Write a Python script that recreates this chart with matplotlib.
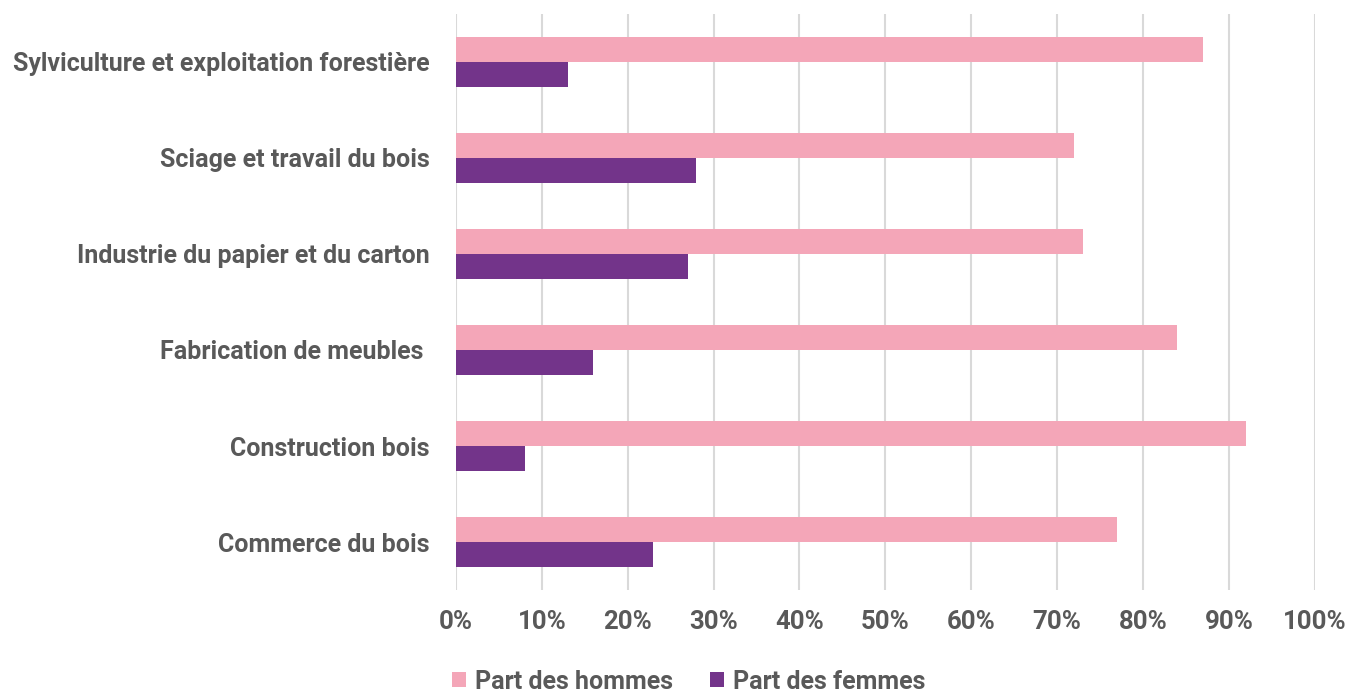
import numpy as np
import matplotlib.pyplot as plt
from matplotlib.ticker import PercentFormatter

# Data
categories = ["Sylviculture et exploitation forestière", "Sciage et travail du bois",
              "Industrie du papier et du carton", "Fabrication de meubles ",
              "Construction bois", "Commerce du bois"]
part_hommes = [87, 72, 73, 84, 92, 77]
part_femmes = [13, 28, 27, 16, 8, 23]

PINK = "#F4A6B8"
PURPLE = "#73348A"
GREY = "#595959"

plt.rcParams['font.family'] = ['Roboto', 'DejaVu Sans']
plt.rcParams['font.weight'] = 'bold'

fig = plt.figure(figsize=(13.61, 6.91), dpi=100)
ax = fig.add_axes([0.335, 0.146, 0.631, 0.834])

y = np.arange(len(categories))[::-1]
h = 0.26
ax.barh(y + h / 2, part_hommes, height=h, color=PINK, label="Part des hommes", zorder=3)
ax.barh(y - h / 2, part_femmes, height=h, color=PURPLE, label="Part des femmes", zorder=3)

ax.set_xlim(0, 100)
ax.set_ylim(-0.5, len(categories) - 0.5)
ax.set_xticks(np.arange(0, 101, 10))
ax.xaxis.set_major_formatter(PercentFormatter(decimals=0))
ax.set_yticks(y)
ax.set_yticklabels(categories)

ax.grid(axis='x', color="#D9D9D9", linewidth=1.5, zorder=0)
for s in ax.spines.values():
    s.set_visible(False)
ax.tick_params(length=0, colors=GREY)
ax.tick_params(axis='x', pad=14, labelsize=18.5)
ax.tick_params(axis='y', pad=19, labelsize=18)
for lab in ax.get_xticklabels() + ax.get_yticklabels():
    lab.set_fontweight('bold')

leg = fig.legend(loc='center', bbox_to_anchor=(0.506, 0.0135), ncol=2, frameon=False,
                 prop={'size': 18, 'weight': 'bold'}, handlelength=0.55, handleheight=0.55,
                 handletextpad=0.35, columnspacing=1.5)
for t in leg.get_texts():
    t.set_color(GREY)
    t.set_fontweight('bold')

fig.savefig("out.png", dpi=100)
